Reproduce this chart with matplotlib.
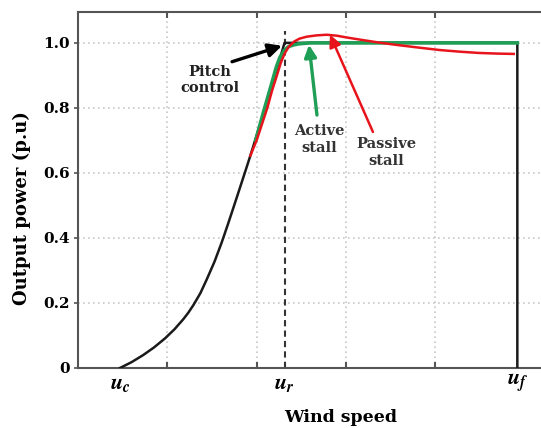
import numpy as np
import matplotlib
matplotlib.use("Agg")
import matplotlib.pyplot as plt

plt.rcParams['font.family'] = ['DejaVu Serif']
plt.rcParams['font.weight'] = 'bold'
plt.rcParams['axes.labelweight'] = 'bold'
plt.rcParams['mathtext.fontset'] = 'stix'

# velocidades caracteristicas (unidades arbitrarias)
u_c = 0.469
u_r = 2.313
u_f = 4.92

# curva de control por pitch (negra)
pitch_x = [0.47, 0.6, 0.731, 0.85, 0.974, 1.08, 1.179, 1.235, 1.291, 1.37, 1.441, 1.53, 1.609,
           1.68, 1.739, 1.80, 1.87, 1.93, 2.02, 2.12, 2.22, 2.313, 4.92, 4.92]
pitch_y = [0.0, 0.018, 0.040, 0.063, 0.091, 0.119, 0.150, 0.170, 0.193, 0.230, 0.272, 0.328, 0.386,
           0.443, 0.492, 0.543, 0.602, 0.653, 0.733, 0.823, 0.913, 1.0, 1.0, 0.0]

# active stall (verde)
active_x = [1.99, 2.08, 2.17, 2.22, 2.26, 2.31, 2.36, 2.42, 2.47, 2.6, 4.92]
active_y = [0.70, 0.79, 0.876, 0.925, 0.955, 0.977, 0.989, 0.994, 0.997, 1.0, 1.0]

# passive stall (rojo)
passive_x = [1.93, 2.0, 2.06, 2.12, 2.175, 2.23, 2.27, 2.315, 2.36, 2.42, 2.48, 2.561,
             2.67, 2.785, 2.9, 3.0, 3.18, 3.37, 3.56, 3.8, 4.05, 4.27, 4.49, 4.7, 4.88]
passive_y = [0.653, 0.70, 0.75, 0.80, 0.855, 0.902, 0.938, 0.968, 0.988, 1.004, 1.013, 1.019,
             1.023, 1.025, 1.022, 1.017, 1.009, 1.001, 0.994, 0.986, 0.978, 0.973, 0.969, 0.967, 0.966]

grid_x = [1, 2, 3, 4, 4.92]
yticks = [0, 0.2, 0.4, 0.6, 0.8, 1.0]
ytick_labels = ['0', '0.2', '0.4', '0.6', '0.8', '1.0']

verde = '#1f9e55'
rojo = '#e8141c'

fig = plt.figure(figsize=(5.41, 4.28), dpi=100)
ax = fig.add_axes([0.1442, 0.1402, 0.8558, 0.8318])

ax.set_xlim(0, 5.185)
ax.set_ylim(0, 1.095)

# grilla punteada
ax.set_xticks(grid_x, minor=True)
ax.set_yticks(yticks, ytick_labels)
ax.set_xticks([u_c, u_r, u_f], [r'$u_c$', r'$u_r$', r'$u_f$'])
ax.grid(True, which='minor', axis='x', color='#c8c8c8', linestyle=(0, (1, 2)), lw=1.2)
ax.grid(True, which='major', axis='y', color='#c8c8c8', linestyle=(0, (1, 2)), lw=1.2)

ax.tick_params(axis='x', which='major', length=0, labelsize=16, pad=3)
ax.tick_params(axis='x', which='minor', direction='in', length=4, width=1.5,
               top=True, bottom=True, color='#555555')
ax.tick_params(axis='y', which='major', direction='out', length=3, width=1.2,
               labelsize=11, pad=3, color='#555555')

for s in ['left', 'top', 'bottom']:
    ax.spines[s].set_color('#555555')
    ax.spines[s].set_linewidth(1.5)
ax.spines['right'].set_visible(False)

# lineas
ax.plot([u_r, u_r], [0, 1.035], color='#333333', lw=1.5, linestyle=(0, (3, 2)))
ax.plot(pitch_x, pitch_y, color='#1a1a1a', lw=1.8, zorder=3)
ax.plot(active_x, active_y, color=verde, lw=2.6, zorder=4)
ax.plot(passive_x, passive_y, color=rojo, lw=1.8, zorder=5)

# textos y flechas
ax.text(1.478, 0.886, 'Pitch\ncontrol', ha='center', va='center', fontsize=10.5,
        linespacing=1.25, color='#222222')
ax.text(2.699, 0.702, 'Active\nstall', ha='center', va='center', fontsize=10.5,
        linespacing=1.25, color='#333333')
ax.text(3.449, 0.662, 'Passive\nstall', ha='center', va='center', fontsize=10.5,
        linespacing=1.25, color='#333333')

ax.annotate('', xy=(2.284, 0.991), xytext=(1.725, 0.942),
            arrowprops=dict(arrowstyle='-|>', color='black', lw=2.4,
                            mutation_scale=20, shrinkA=0, shrinkB=0), zorder=6)
ax.annotate('', xy=(2.587, 0.994), xytext=(2.676, 0.778),
            arrowprops=dict(arrowstyle='-|>', color=verde, lw=2.4,
                            mutation_scale=18, shrinkA=0, shrinkB=0), zorder=6)
ax.annotate('', xy=(2.822, 1.025), xytext=(3.303, 0.726),
            arrowprops=dict(arrowstyle='-|>', color=rojo, lw=1.8,
                            mutation_scale=18, shrinkA=0, shrinkB=0), zorder=6)

ax.set_xlabel('Wind speed', fontsize=12.5)
ax.xaxis.set_label_coords(0.568, -0.138)
ax.xaxis.label.set_va('center')
ax.set_ylabel('Output power (p.u)', fontsize=13)
ax.yaxis.set_label_coords(-0.121, 0.449)
ax.yaxis.label.set_va('center')

fig.savefig('out.png', dpi=100)
